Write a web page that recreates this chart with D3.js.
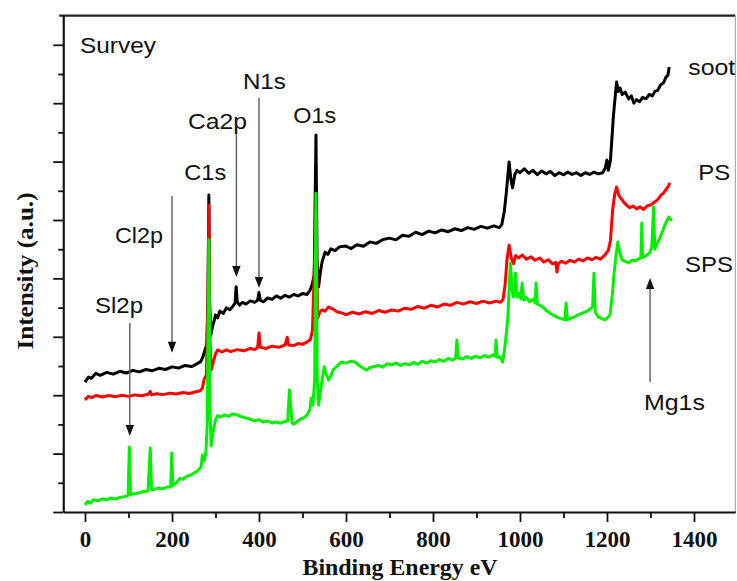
<!DOCTYPE html>
<html><head><meta charset="utf-8">
<script src="https://cdn.jsdelivr.net/npm/d3@7"></script>
<style>body{margin:0;background:#fff}svg{display:block}</style>
</head><body>
<svg id="c" width="737" height="581"></svg>
<script>
// ---------- data (binding energy eV, intensity a.u.) ----------
const sootEnergy = [0,8,15,25,35,50,65,80,95,110,125,140,155,170,185,200,215,230,245,258,266,272,277,280,282.5,284.8,286.5,289,293,297,300,305,310,318,325,333,340,345,347.5,350,355,362,370,380,390,397,400,403,410,420,430,440,450,460,470,480,490,500,510,517,522,527,531,533.5,537,541,545,552,558,565,575,585,600,612,625,640,655,670,685,700,715,730,745,760,775,790,805,820,835,850,865,880,895,910,925,940,952,958,964,969,975,979,983,988,993,1000,1010,1020,1030,1040,1050,1060,1070,1080,1090,1100,1110,1120,1130,1140,1150,1160,1170,1180,1190,1196,1200,1203,1208,1215,1222,1226,1230,1235,1242,1250,1256,1262,1268,1275,1282,1290,1297,1304,1310,1317,1323,1330,1336,1340,1343];
const sootIntensity = [4.45,4.62,4.58,4.75,4.68,4.78,4.72,4.82,4.76,4.85,4.80,4.88,4.84,4.92,4.88,4.97,4.93,5.02,4.98,5.08,5.15,5.35,5.60,5.72,7.3,10.86,7.3,6.05,6.35,6.55,6.75,6.65,6.88,6.80,6.99,6.93,7.05,7.15,7.71,7.20,7.08,7.18,7.12,7.23,7.18,7.26,7.52,7.25,7.20,7.33,7.28,7.40,7.32,7.42,7.36,7.45,7.40,7.48,7.45,7.58,7.77,8.12,12.91,8.6,7.71,8.20,8.56,8.90,8.82,9.01,8.95,9.08,9.11,9.02,9.15,9.10,9.25,9.20,9.33,9.38,9.32,9.48,9.44,9.58,9.50,9.62,9.56,9.66,9.60,9.70,9.64,9.74,9.68,9.78,9.72,9.80,9.74,9.83,10.3,11.0,11.99,11.4,11.10,11.55,11.70,11.62,11.75,11.60,11.70,11.55,11.68,11.58,11.66,11.52,11.62,11.55,11.64,11.56,11.62,11.52,11.62,11.56,11.64,11.58,11.62,11.78,12.05,11.70,12.05,13.60,14.73,14.40,14.52,14.30,14.38,14.15,14.25,14.00,14.12,14.05,14.20,14.15,14.30,14.25,14.40,14.45,14.62,14.70,14.90,14.95,15.24];

const psEnergy = [0,8,15,25,40,55,70,85,100,115,130,145,150,153,165,180,195,210,225,240,255,265,270,274,279,283,284.8,286.5,290,295,300,305,315,325,335,350,365,380,390,397,400,403,415,430,445,460,465,468,480,490,500,510,518,523,531,535,540,545,552,560,570,580,590,600,615,630,645,660,675,690,705,720,735,750,765,780,795,810,825,840,855,870,885,900,915,930,945,955,961,966,970,975,980,985,990,997,1005,1015,1025,1035,1045,1055,1065,1075,1082,1085,1088,1095,1105,1115,1125,1135,1145,1155,1165,1175,1185,1195,1203,1208,1213,1218,1222,1227,1232,1238,1245,1252,1260,1268,1276,1284,1292,1300,1306,1312,1318,1324,1330,1336,1341,1345];
const psIntensity = [3.84,3.96,3.92,3.99,3.94,3.99,3.95,4.00,3.96,4.01,3.98,4.03,4.13,4.01,4.05,4.02,4.07,4.04,4.09,4.06,4.12,4.15,4.25,4.55,4.69,7.3,10.51,6.2,4.86,5.14,5.41,5.55,5.48,5.55,5.49,5.56,5.52,5.60,5.56,5.64,6.13,5.64,5.60,5.68,5.64,5.72,5.98,5.72,5.70,5.77,5.74,5.82,5.90,6.23,10.30,6.64,6.85,6.92,6.88,7.02,6.95,6.85,6.82,6.76,6.84,6.78,6.86,6.80,6.90,6.84,6.92,6.88,6.98,6.94,7.04,6.98,7.08,7.02,7.12,7.08,7.18,7.12,7.20,7.14,7.22,7.16,7.22,7.18,7.28,7.80,8.63,9.14,8.70,8.50,8.78,8.70,8.80,8.66,8.74,8.62,8.70,8.56,8.64,8.50,8.55,8.22,8.50,8.58,8.52,8.62,8.56,8.66,8.60,8.70,8.64,8.72,8.66,8.80,8.95,9.30,10.34,10.9,11.13,10.85,10.75,10.62,10.51,10.42,10.48,10.38,10.45,10.36,10.48,10.51,10.58,10.64,10.72,10.85,10.92,11.05,11.15,11.27];

const spsEnergy = [0,6,12,20,30,40,50,60,70,80,90,99,102,105,115,125,135,145,150,153,160,170,180,190,197,199.5,202,210,218,225,235,245,255,262,267,270,274,278,281,284.8,287.5,290,295,300,305,310,320,330,340,350,360,370,380,390,400,410,420,430,440,450,460,466,470,473,476,480,488,495,505,512,517,520,524,528,531,534,537,541,545,550,555,560,565,570,580,590,600,610,620,630,640,648,655,665,675,685,695,705,715,725,735,745,755,765,775,785,795,805,815,825,835,845,852,855,858,868,878,888,898,908,918,928,938,943,945,948,955,960,964,967,972,978,982,985,990,993,998,1002,1005,1009,1015,1022,1030,1035,1037,1040,1048,1055,1062,1070,1080,1088,1095,1103,1106,1109,1117,1125,1135,1145,1155,1163,1167,1170,1173,1180,1188,1195,1202,1207,1212,1216,1221,1225,1229,1235,1242,1250,1258,1265,1272,1278,1280,1282,1290,1298,1303,1307,1310,1315,1320,1326,1332,1337,1342,1347,1350];
const spsIntensity = [0.24,0.36,0.30,0.42,0.38,0.45,0.42,0.48,0.44,0.50,0.52,0.56,2.23,0.60,0.63,0.66,0.70,0.72,2.19,0.76,0.78,0.82,0.80,0.86,0.86,2.02,0.90,1.00,1.15,1.12,1.23,1.28,1.37,1.45,1.55,1.95,1.75,2.05,3.0,9.32,3.5,2.26,2.81,3.15,3.30,3.25,3.32,3.28,3.36,3.32,3.26,3.22,3.18,3.12,3.16,3.08,3.12,3.05,3.08,3.04,3.10,3.12,4.18,3.60,3.05,3.01,3.10,3.18,3.24,3.36,3.50,3.90,3.66,4.52,10.92,4.50,3.66,4.10,4.52,4.97,4.70,4.52,4.65,4.86,5.00,5.14,5.10,5.16,5.14,5.02,4.92,4.86,4.95,4.98,5.02,4.96,5.08,5.04,5.10,5.02,5.08,5.04,5.12,5.06,5.16,5.10,5.18,5.14,5.22,5.16,5.26,5.20,5.27,5.89,5.27,5.24,5.32,5.26,5.34,5.28,5.36,5.30,5.38,5.34,5.89,5.30,5.28,5.14,5.50,5.89,6.64,8.53,7.60,7.36,8.18,7.36,7.50,7.30,7.84,7.26,7.34,7.20,7.28,7.16,7.84,7.12,7.06,6.99,6.88,6.80,6.71,6.66,6.62,6.58,7.16,6.58,6.64,6.68,6.76,6.82,6.88,6.98,7.02,8.18,6.85,6.68,6.62,6.58,6.66,6.75,7.40,8.12,8.80,9.25,8.90,8.63,8.58,8.53,8.62,8.60,8.66,8.70,9.90,8.72,8.78,8.87,9.05,10.45,9.00,9.20,9.32,9.55,9.78,9.95,10.10,10.02,9.99];

const seriesNames = ["soot","PS","SPS"];
const xMajorTicks = [0,200,400,600,800,1000,1200,1400];
const xMinorTicks = [100,300,500,700,900,1100,1300];
const yMajorTicks = [0,2,4,6,8,10,12,14,16];
const yMinorTicks = [1,3,5,7,9,11,13,15];

// annotations: arrows (energy, start level, tip level)
const arrowNames  = ["Sl2p","Cl2p","Ca2p","N1s","Mg1s"];
const arrowEnergy = [103,200,348,400,1299];
const arrowFrom   = [6.47,10.82,12.98,14.18,4.45];
const arrowTo     = [2.60,5.45,8.05,7.67,8.01];

// text labels (energy of left edge, baseline level)
const labelText   = ["Survey","N1s","Ca2p","O1s","C1s","Cl2p","Sl2p","soot","PS","SPS","Mg1s"];
const labelEnergy = [-11.5,363,236.8,478.9,228.3,69,23,1386.9,1409.9,1379.3,1285];
const labelLevel  = [15.72,14.49,13.12,13.33,11.37,9.20,6.80,14.97,11.37,8.23,3.49];

// ---------- drawing ----------
const pL = 63.25, pR = 735.3, pT = 15.6, pB = 512;
const svg = d3.select("#c");
const x = d3.scaleLinear().domain([-50,1495]).range([pL,pR]);
const y = d3.scaleLinear().domain([0,17]).range([pB,pT]);

const colors = {soot:"#000000", PS:"#ff0000", SPS:"#00f000"};
const labelWidths = {"Survey":76,"N1s":43,"Ca2p":59,"O1s":43,"C1s":42,"Cl2p":48,"Sl2p":48,"soot":47,"PS":32,"SPS":48,"Mg1s":61};

// frame top & right
svg.append("line").attr("x1",pL-4).attr("x2",pR).attr("y1",pT).attr("y2",pT)
  .attr("stroke","#222").attr("stroke-width",2.2);
svg.append("line").attr("x1",pR).attr("x2",pR).attr("y1",pT).attr("y2",pB)
  .attr("stroke","#999").attr("stroke-width",1);

// series
const line = d3.line().x(d=>x(d[0])).y(d=>y(d[1])).curve(d3.curveLinear);
const series = [
  {name:"soot", e:sootEnergy, v:sootIntensity},
  {name:"PS", e:psEnergy, v:psIntensity},
  {name:"SPS", e:spsEnergy, v:spsIntensity}
];
series.forEach(s=>{
  svg.append("path").datum(s.e.map((e,i)=>[e,s.v[i]]))
    .attr("d",line).attr("fill","none").attr("stroke",colors[s.name])
    .attr("stroke-width",3).attr("stroke-linejoin","round");
});

// axes
const serif = "'Liberation Serif','Times New Roman',serif";
const xAxis = svg.append("g").attr("transform",`translate(0,${pB})`)
  .call(d3.axisBottom(x).tickValues(xMajorTicks).tickSize(10).tickSizeOuter(0).tickPadding(9).tickFormat(d3.format("d")));
svg.append("g").attr("transform",`translate(0,${pB})`)
  .call(d3.axisBottom(x).tickValues(xMinorTicks).tickSize(6).tickSizeOuter(0).tickFormat(""))
  .select(".domain").remove();
xAxis.selectAll("text").attr("font-family",serif).attr("font-weight","bold").attr("font-size",23).attr("fill","#111");
svg.append("g").attr("transform",`translate(${pL},0)`)
  .call(d3.axisLeft(y).tickValues(yMajorTicks).tickSize(10).tickSizeOuter(0).tickFormat(""));
svg.append("g").attr("transform",`translate(${pL},0)`)
  .call(d3.axisLeft(y).tickValues(yMinorTicks).tickSize(5).tickSizeOuter(0).tickFormat(""))
  .select(".domain").remove();
svg.selectAll(".domain").attr("stroke","#111").attr("stroke-width",2.2);
svg.selectAll(".tick line").attr("stroke","#111").attr("stroke-width",1.8);

// axis titles
svg.append("text").attr("x",400).attr("y",575).attr("text-anchor","middle")
  .attr("font-family",serif).attr("font-weight","bold").attr("font-size",24).attr("fill","#111")
  .attr("textLength",195).attr("lengthAdjust","spacingAndGlyphs")
  .text("Binding Energy eV");
svg.append("text").attr("transform","translate(33,271) rotate(-90)").attr("text-anchor","middle")
  .attr("font-family",serif).attr("font-weight","bold").attr("font-size",24).attr("fill","#111")
  .attr("textLength",157).attr("lengthAdjust","spacingAndGlyphs")
  .text("Intensity (a.u.)");

// arrows
arrowNames.forEach((n,i)=>{
  const ax = x(arrowEnergy[i]);
  const y0 = y(arrowFrom[i]), y1 = y(arrowTo[i]);
  const dir = Math.sign(y1-y0);
  const hl = 11, hw = 4.2;
  svg.append("line").attr("x1",ax).attr("x2",ax).attr("y1",y0).attr("y2",y1-dir*hl+dir)
    .attr("stroke","#666").attr("stroke-width",1.5);
  svg.append("path")
    .attr("d",`M${ax},${y1} L${ax-hw},${y1-dir*hl} L${ax+hw},${y1-dir*hl} Z`)
    .attr("fill","#111");
});

// labels
const sans = "'Liberation Sans',Arial,sans-serif";
labelText.forEach((t,i)=>{
  svg.append("text").attr("x",x(labelEnergy[i])).attr("y",y(labelLevel[i]))
    .attr("font-family",sans).attr("font-size",22).attr("fill","#111")
    .attr("textLength",labelWidths[t]).attr("lengthAdjust","spacingAndGlyphs")
    .text(t);
});
</script>
</body></html>
